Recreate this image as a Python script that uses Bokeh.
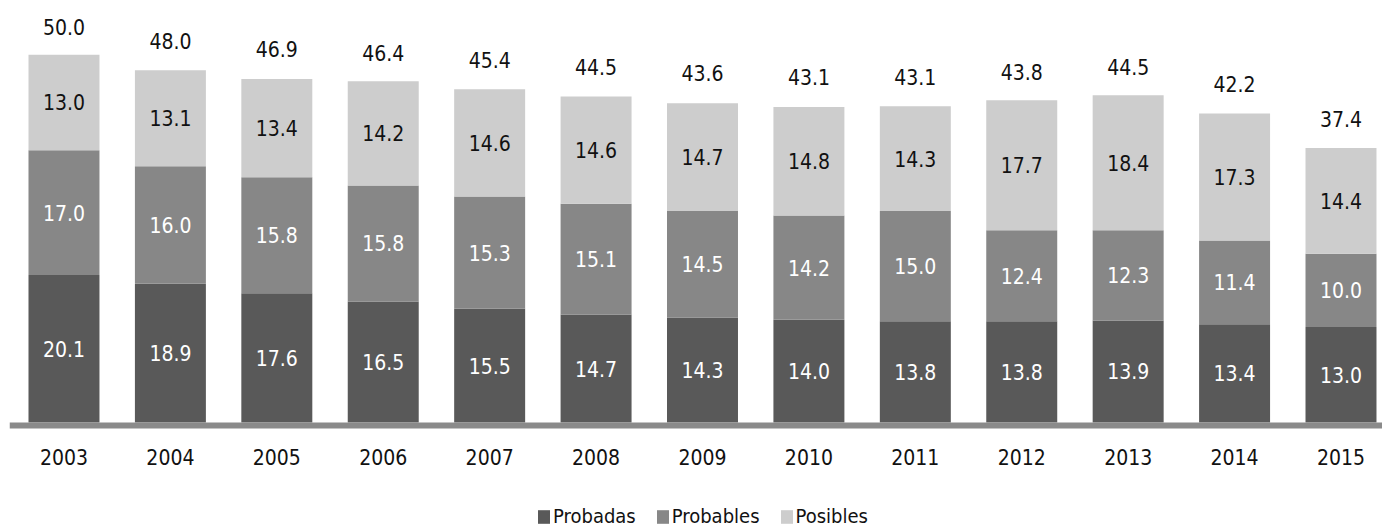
from bokeh.plotting import figure
from bokeh.models import (ColumnDataSource, Range1d, Span, Legend, LegendItem)
from bokeh.core.properties import value
from bokeh.embed import file_html
from bokeh.resources import INLINE

# Reservas de hidrocarburos por año (miles de millones de barriles)
years = ["2003", "2004", "2005", "2006", "2007", "2008", "2009",
         "2010", "2011", "2012", "2013", "2014", "2015"]
probadas = [20.1, 18.9, 17.6, 16.5, 15.5, 14.7, 14.3, 14.0, 13.8, 13.8, 13.9, 13.4, 13.0]
probables = [17.0, 16.0, 15.8, 15.8, 15.3, 15.1, 14.5, 14.2, 15.0, 12.4, 12.3, 11.4, 10.0]
posibles = [13.0, 13.1, 13.4, 14.2, 14.6, 14.6, 14.7, 14.8, 14.3, 17.7, 18.4, 17.3, 14.4]
totales = [50.0, 48.0, 46.9, 46.4, 45.4, 44.5, 43.6, 43.1, 43.1, 43.8, 44.5, 42.2, 37.4]

series = ["Probadas", "Probables", "Posibles"]
colors = ["#595959", "#878787", "#cdcdcd"]
label_colors = ["#ffffff", "#ffffff", "#111111"]

FONT = "'DejaVu Sans Condensed', 'Open Sans'"
FS = "21px"

x = list(range(len(years)))
data = dict(x=x, Probadas=probadas, Probables=probables, Posibles=posibles,
            total=totales, total_txt=[f"{v:.1f}" for v in totales],
            year=years)

# bottoms and midpoints of every stacked segment
bottom = [0.0] * len(years)
for name, vals in zip(series, [probadas, probables, posibles]):
    data[name + "_mid"] = [b + v / 2 for b, v in zip(bottom, vals)]
    data[name + "_txt"] = [f"{v:.1f}" for v in vals]
    bottom = [b + v for b, v in zip(bottom, vals)]

src = ColumnDataSource(data)

PX = 7.34  # pixels per unit on the value scale
p = figure(width=1382, height=529, output_backend="svg", toolbar_location=None,
           x_range=Range1d(-0.512, 12.39),
           y_range=Range1d(-107 / PX, 422 / PX),
           x_axis_location=None, y_axis_location=None,
           min_border_left=9, min_border_right=0, min_border_top=0,
           min_border_bottom=0, outline_line_color=None)
p.grid.visible = False
p.background_fill_color = "white"
p.border_fill_color = "white"

bars = p.vbar_stack(series, x="x", width=0.667, color=colors, source=src,
                    line_color=None)

# category baseline just under the bars
p.add_layout(Span(location=-3 / PX, dimension="width", line_color="#8a8a8a",
                  line_width=6))

for name, tc in zip(series, label_colors):
    p.text(x="x", y=name + "_mid", text=name + "_txt", source=src,
           text_align="center", text_baseline="middle",
           text_font=value(FONT), text_font_size=FS, text_color=tc)

p.text(x="x", y="total", text="total_txt", source=src, y_offset=-29,
       text_align="center", text_baseline="middle",
       text_font=value(FONT), text_font_size=FS, text_color="#111111")

# year labels under the baseline
p.text(x="x", y=0, text="year", source=src, y_offset=34,
       text_align="center", text_baseline="middle",
       text_font=value(FONT), text_font_size=FS, text_color="#111111")

legend = Legend(items=[LegendItem(label=s, renderers=[r]) for s, r in zip(series, bars)],
                orientation="horizontal", location=(527, 1),
                glyph_width=15, glyph_height=17, label_standoff=2, spacing=19,
                padding=0, margin=0, border_line_color=None,
                background_fill_alpha=0,
                label_text_font=FONT, label_text_font_size="20px",
                label_text_color="#111111")
p.add_layout(legend, "center")

open("out.html", "w").write(file_html(p, INLINE))
